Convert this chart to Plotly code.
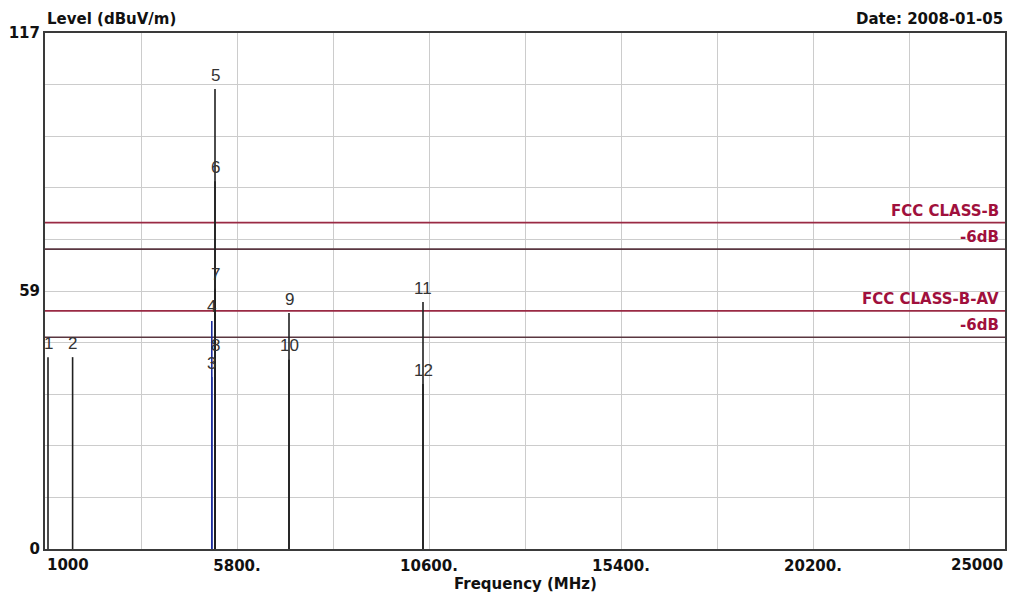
import plotly.graph_objects as go

# ---- data ----
marker_ids = ["1", "2", "3", "4", "5", "6", "7", "8", "9", "10", "11", "12"]
marker_freq = [1075, 1690, 5170, 5170, 5250, 5250, 5250, 5250, 7100, 7100, 10450, 10450]
marker_level = [43.5, 43.5, 39.0, 51.7, 104.3, 83.4, 59.0, 42.9, 53.5, 42.9, 56.0, 37.4]
marker_color = ["#202020", "#202020", "#1c2c9c", "#1c2c9c", "#202020", "#202020",
                "#202020", "#202020", "#202020", "#202020", "#202020", "#202020"]

limit_names = ["FCC CLASS-B", "-6dB", "FCC CLASS-B-AV", "-6dB"]
limit_levels = [74, 68, 54, 48]
limit_colors = ["#9a2a44", "#5a3640", "#9a2a44", "#5a3640"]

x_min, x_max = 1000, 25000
y_min, y_max = 0, 117
x_grid = [1000 + 2400 * i for i in range(11)]
x_ticktext = ["", "", "5800.", "", "10600.", "", "15400.", "", "20200.", "", ""]
y_grid = [round(11.7 * i, 2) for i in range(11)]
y_ticktext = ["0", "", "", "", "", "59", "", "", "", "", "117"]

FONT_B = "DejaVu Sans"
DARK = "#111111"
fig = go.Figure()

# limit lines
for name, lvl, col in zip(limit_names, limit_levels, limit_colors):
    fig.add_trace(go.Scatter(x=[x_min, x_max], y=[lvl, lvl], mode="lines",
                             line=dict(color=col, width=1.6), showlegend=False,
                             hoverinfo="skip"))

# marker vertical lines
for col in ["#202020", "#1c2c9c"]:
    xs, ys = [], []
    for f, l, c in zip(marker_freq, marker_level, marker_color):
        if c == col:
            xs += [f, f, None]
            ys += [0, l, None]
    fig.add_trace(go.Scatter(x=xs, y=ys, mode="lines", line=dict(color=col, width=1.6),
                             showlegend=False, hoverinfo="skip"))

annotations = []
for mid, f, l in zip(marker_ids, marker_freq, marker_level):
    annotations.append(dict(x=f, y=l, text=mid, showarrow=False, xref="x", yref="y",
                            yanchor="middle", yshift=14,
                            font=dict(family="Liberation Sans", size=17, color="#333333")))

for name, lvl in zip(limit_names, limit_levels):
    annotations.append(dict(x=x_max, y=lvl, text="<b>%s</b>" % name, showarrow=False,
                            xref="x", yref="y", xanchor="right", yanchor="bottom",
                            xshift=-4, yshift=1,
                            font=dict(family=FONT_B, size=15, color="#a0103c")))

annotations += [
    dict(x=0, y=1, xref="paper", yref="paper", xanchor="left", yanchor="bottom",
         yshift=3, text="<b>Level (dBuV/m)</b>", showarrow=False,
         font=dict(family=FONT_B, size=15, color=DARK)),
    dict(x=1, y=1, xref="paper", yref="paper", xanchor="right", yanchor="bottom",
         yshift=3, text="<b>Date: 2008-01-05</b>", showarrow=False,
         font=dict(family=FONT_B, size=15, color=DARK)),
    dict(x=x_min, y=0, xref="x", yref="paper", xanchor="left", yanchor="top",
         yshift=-5, text="<b>1000</b>", showarrow=False,
         font=dict(family=FONT_B, size=15, color=DARK)),
    dict(x=x_max, y=0, xref="x", yref="paper", xanchor="right", yanchor="top",
         yshift=-5, text="<b>25000</b>", showarrow=False,
         font=dict(family=FONT_B, size=15, color=DARK)),
    dict(x=0.5, y=0, xref="paper", yref="paper", xanchor="center", yanchor="top",
         yshift=-24, text="<b>Frequency (MHz)</b>", showarrow=False,
         font=dict(family=FONT_B, size=15, color=DARK)),
]

fig.update_layout(
    width=1015, height=593,
    margin=dict(l=37, r=18, t=25, b=52, autoexpand=False),
    paper_bgcolor="white", plot_bgcolor="white",
    annotations=annotations,
    xaxis=dict(range=[x_min, x_max], tickmode="array", tickvals=x_grid,
               ticktext=["<b>%s</b>" % t if t else "" for t in x_ticktext],
               showgrid=True, gridcolor="#cccccc", gridwidth=1, zeroline=False,
               showline=True, mirror=True, linecolor="#3a3a3a", linewidth=2,
               ticks="", automargin=False, ticklabelstandoff=2,
               tickfont=dict(family=FONT_B, size=15, color=DARK)),
    yaxis=dict(range=[y_min, y_max], tickmode="array", tickvals=y_grid,
               ticktext=["<b>%s</b>" % t if t else "" for t in y_ticktext],
               showgrid=True, gridcolor="#cccccc", gridwidth=1, zeroline=False,
               showline=True, mirror=True, linecolor="#3a3a3a", linewidth=2,
               ticks="", automargin=False,
               tickfont=dict(family=FONT_B, size=15, color=DARK)),
)

fig.write_html("out.html")
